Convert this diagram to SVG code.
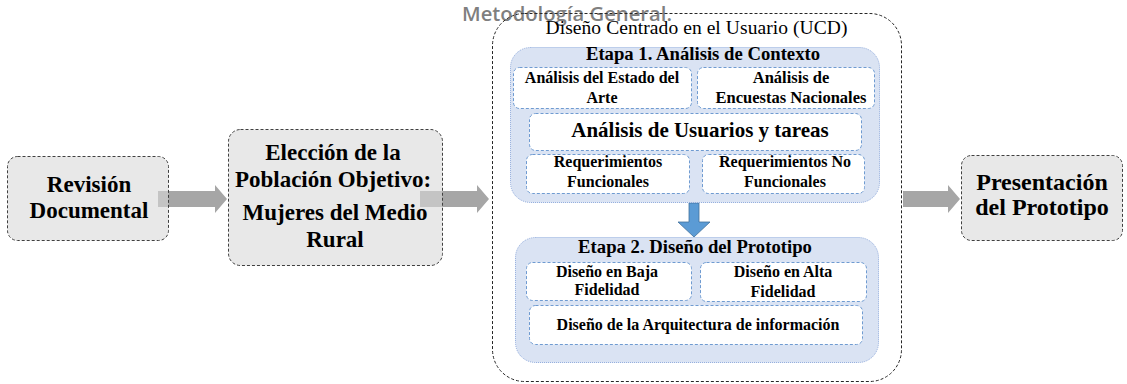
<svg xmlns="http://www.w3.org/2000/svg" width="1127" height="384" viewBox="0 0 1127 384">
<style>
.gbox{fill:#d9d9d9;fill-opacity:0.6;stroke:#404040;stroke-width:1;stroke-dasharray:3 2}
.stage{fill:#dae3f3;stroke:#8faadc;stroke-width:1;stroke-dasharray:1 1}
.inner{fill:#ffffff;stroke:#6f9bd1;stroke-width:1;stroke-dasharray:3 2}
.t{font-family:"Liberation Serif","Times New Roman",serif;font-weight:bold;fill:#000;text-anchor:middle}
.arrow{fill:#a6a6a6}
</style>
<rect width="1127" height="384" fill="#ffffff"/>
<text x="462" y="21" font-family="'Open Sans','Noto Sans',sans-serif" font-weight="600" font-size="19.5" fill="#7f7f7f" textLength="210" lengthAdjust="spacingAndGlyphs">Metodología General.</text>
<g id="connectors">
  <polygon class="arrow" points="158,191 215,191 215,185 227,199 215,213 215,207 158,207"/>
  <polygon class="arrow" points="420,191 477,191 477,185 489,199 477,213 477,207 420,207"/>
  <polygon class="arrow" points="903,191 948,191 948,185 960,199 948,213 948,207 903,207"/>
  <polygon points="689,203 699,203 699,222 710,222 694,237 678,222 689,222" fill="#5b9bd5" stroke="#41719c" stroke-width="0.8"/>
</g>
<g id="revision">
  <rect class="gbox" x="7.5" y="156.5" width="161" height="84" rx="10"/>
  <text class="t" font-size="23" x="89" y="192">Revisión</text>
  <text class="t" font-size="23" x="89" y="218">Documental</text>
</g>
<g id="eleccion">
  <rect class="gbox" x="228.5" y="129.5" width="214" height="136" rx="12"/>
  <text class="t" font-size="23" x="333" y="160">Elección de la</text>
  <text class="t" font-size="23" x="333" y="187">Población Objetivo:</text>
  <text class="t" font-size="23" x="335" y="220">Mujeres del Medio</text>
  <text class="t" font-size="23" x="335" y="247">Rural</text>
</g>
<g id="ucd">
  <rect x="492.5" y="13.5" width="409" height="368" rx="32" fill="none" stroke="#262626" stroke-width="1" stroke-dasharray="3 2"/>
  <text font-family="'Liberation Serif','Times New Roman',serif" font-size="19.5" x="696.5" y="34" text-anchor="middle" fill="#000" textLength="302">Diseño Centrado en el Usuario (UCD)</text>
</g>
<g id="etapa1">
  <rect class="stage" x="510.5" y="47.5" width="369" height="155" rx="20"/>
  <text class="t" font-size="18.7" x="703" y="60">Etapa 1. Análisis de Contexto</text>
</g>
<g id="estado-arte">
  <rect class="inner" x="513.5" y="67.5" width="178" height="41" rx="6"/>
  <text class="t" font-size="16" x="602" y="83">Análisis del Estado del</text>
  <text class="t" font-size="16" x="602" y="103">Arte</text>
</g>
<g id="encuestas">
  <rect class="inner" x="697.5" y="67.5" width="177" height="41" rx="6"/>
  <text class="t" font-size="16.5" x="791" y="83">Análisis de</text>
  <text class="t" font-size="16.5" x="791" y="103">Encuestas Nacionales</text>
</g>
<g id="usuarios">
  <rect class="inner" x="529.5" y="113.5" width="332" height="37" rx="6"/>
  <text class="t" font-size="21" x="700" y="137">Análisis de Usuarios y tareas</text>
</g>
<g id="req-func">
  <rect class="inner" x="526.5" y="154.5" width="163" height="39" rx="6"/>
  <text class="t" font-size="16" x="608" y="167">Requerimientos</text>
  <text class="t" font-size="16" x="608" y="187">Funcionales</text>
</g>
<g id="req-nofunc">
  <rect class="inner" x="702.5" y="154.5" width="162" height="39" rx="6"/>
  <text class="t" font-size="16" x="785" y="167">Requerimientos No</text>
  <text class="t" font-size="16" x="785" y="187">Funcionales</text>
</g>
<g id="etapa2">
  <rect class="stage" x="515.5" y="237.5" width="363" height="125" rx="20"/>
  <text class="t" font-size="18.7" x="695" y="253">Etapa 2. Diseño del Prototipo</text>
</g>
<g id="baja">
  <rect class="inner" x="526.5" y="262.5" width="165" height="38" rx="6"/>
  <text class="t" font-size="16" x="607" y="277">Diseño en Baja</text>
  <text class="t" font-size="16" x="607" y="295">Fidelidad</text>
</g>
<g id="alta">
  <rect class="inner" x="700.5" y="262.5" width="166" height="39" rx="6"/>
  <text class="t" font-size="16" x="783" y="277">Diseño en Alta</text>
  <text class="t" font-size="16" x="783" y="297">Fidelidad</text>
</g>
<g id="arquitectura">
  <rect class="inner" x="529.5" y="305.5" width="333" height="39" rx="6"/>
  <text class="t" font-size="16" x="698" y="330">Diseño de la Arquitectura de información</text>
</g>
<g id="presentacion">
  <rect class="gbox" x="961.5" y="155.5" width="161" height="85" rx="10"/>
  <text class="t" font-size="24" x="1042" y="190">Presentación</text>
  <text class="t" font-size="24" x="1042" y="215">del Prototipo</text>
</g>
</svg>
